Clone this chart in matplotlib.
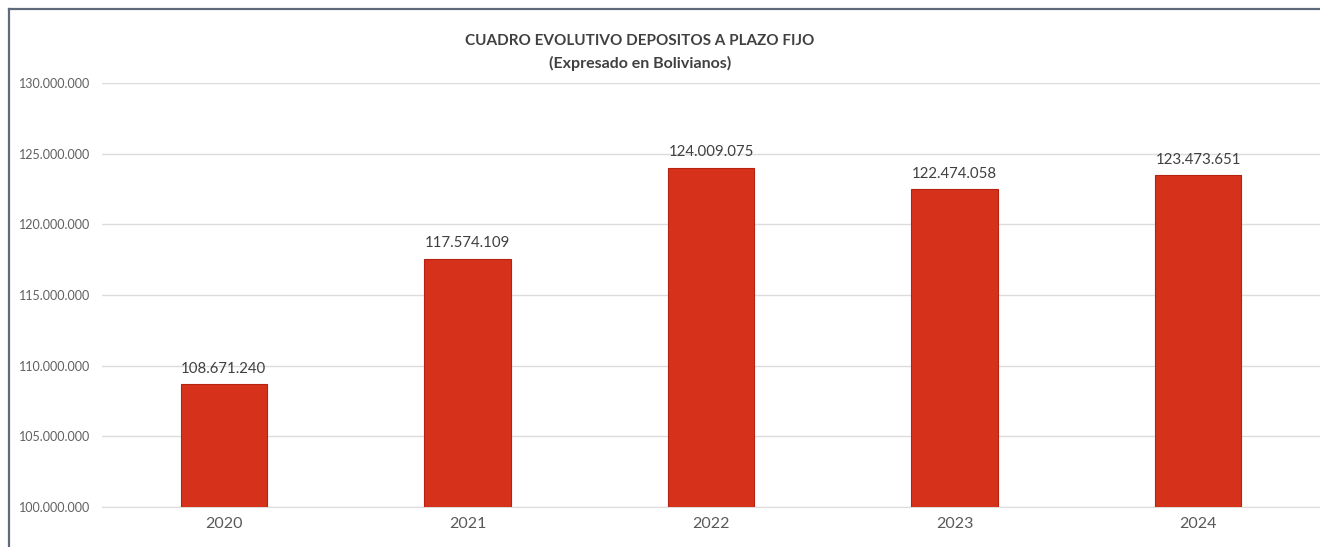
import matplotlib.pyplot as plt
from matplotlib.lines import Line2D
from matplotlib.ticker import FuncFormatter

years = ["2020", "2021", "2022", "2023", "2024"]
depositos = [108671240, 117574109, 124009075, 122474058, 123473651]
y_ticks = [100000000, 105000000, 110000000, 115000000, 120000000, 125000000, 130000000]

plt.rcParams['font.family'] = ['Lato', 'DejaVu Sans']

def miles(v, pos=None):
  return f"{int(round(v)):,}".replace(",", ".")

fig = plt.figure(figsize=(13.2, 5.47), dpi=100)
ax = fig.add_axes([0.0773, 0.0731, 0.9227, 0.7752])

x = range(len(years))
ax.bar(x, [d - y_ticks[0] for d in depositos], bottom=y_ticks[0], width=0.355,
       color="#d6321b", edgecolor="#b5220f", linewidth=0.8, zorder=3)

for i, d in zip(x, depositos):
  ax.annotate(miles(d), (i, d), xytext=(0, 6), textcoords="offset points",
              ha="center", va="bottom", fontsize=10.8, color="#404040")

ax.set_xlim(-0.5, len(years) - 0.5)
ax.set_ylim(y_ticks[0], y_ticks[-1])
ax.set_yticks(y_ticks)
ax.yaxis.set_major_formatter(FuncFormatter(miles))
ax.set_xticks(list(x))
ax.set_xticklabels(years)
ax.tick_params(axis="y", length=0, pad=8.5, labelsize=9, labelcolor="#606060")
ax.tick_params(axis="x", length=0, pad=7, labelsize=11.5, labelcolor="#595959")
ax.grid(axis="y", color="#dcdcdc", linewidth=1, zorder=0)
for s in ["top", "right", "left"]:
  ax.spines[s].set_visible(False)
ax.spines["bottom"].set_color("#dcdcdc")

fig.text(640 / 1320, 1 - 41 / 547, "CUADRO EVOLUTIVO DEPOSITOS A PLAZO FIJO",
         ha="center", va="center", fontsize=11, fontweight="bold", color="#404040")
fig.text(640 / 1320, 1 - 63 / 547, "(Expresado en Bolivianos)",
         ha="center", va="center", fontsize=11.5, fontweight="bold", color="#404040")

# outer frame, left and top
fig.add_artist(Line2D([9 / 1320, 9 / 1320], [0, 1 - 9 / 547], transform=fig.transFigure,
                      color="#5d6b7a", linewidth=1.6))
fig.add_artist(Line2D([9 / 1320, 1], [1 - 9 / 547, 1 - 9 / 547], transform=fig.transFigure,
                      color="#5d6b7a", linewidth=1.6))

fig.savefig("out.png", dpi=100)
